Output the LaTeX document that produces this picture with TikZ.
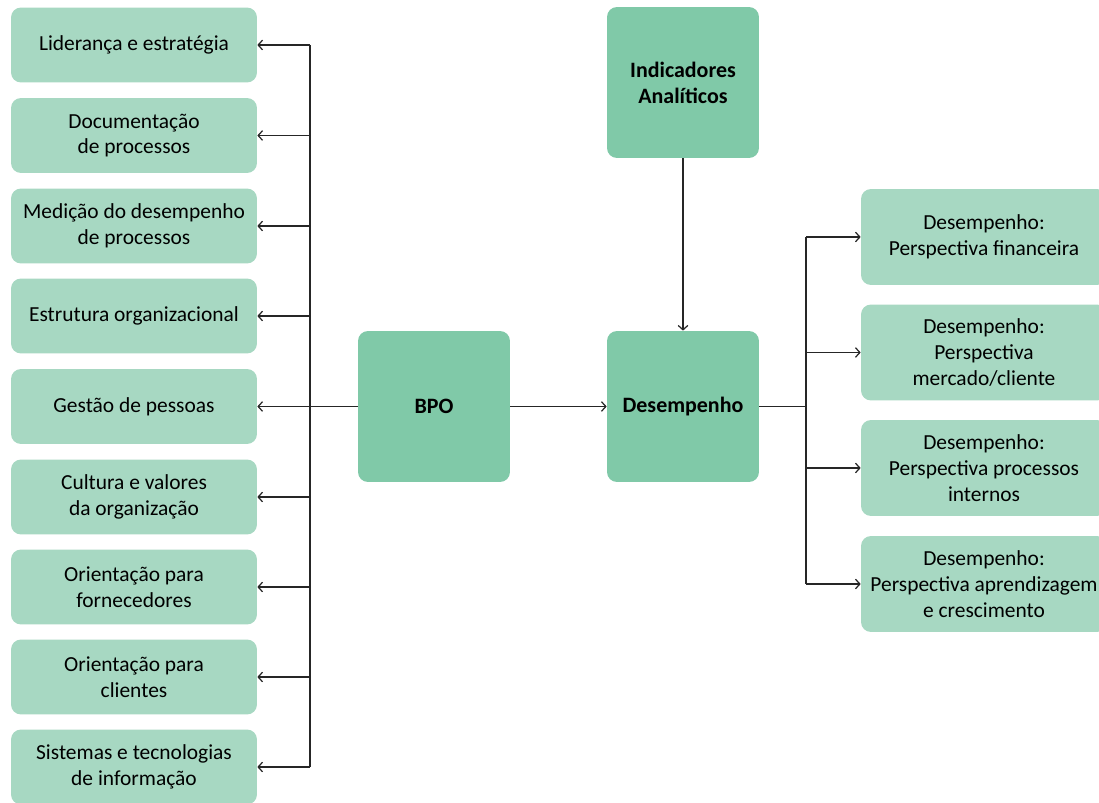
\documentclass[tikz,border=0pt]{standalone}
\usepackage{fontspec}
\setmainfont{Carlito}
\usetikzlibrary{arrows.meta,positioning}
\definecolor{boxlight}{HTML}{A7D8C2}
\definecolor{boxdark}{HTML}{80C9A8}
\tikzset{
  item/.style={fill=boxlight, rounded corners=0.2cm, minimum width=4.92cm,
    minimum height=1.5cm, align=center, font=\fontsize{12.2}{14.7}\selectfont},
  persp/.style={item, minimum height=1.92cm},
  core/.style={fill=boxdark, rounded corners=0.2cm, minimum width=3.04cm,
    minimum height=3.02cm, align=center, font=\fontsize{12.5}{14.7}\selectfont\bfseries},
  link/.style={line width=0.7pt, black!85},
}

\begin{document}
\begin{tikzpicture}[x=0.02cm, y=-0.02cm, >={Straight Barb[length=2.5pt,width=5.5pt]}]
  \clip (0,0) rectangle (1099,803);

  % left column
  \foreach \n/\y/\txt in {1/45/{Liderança e estratégia},
    2/135.5/{Documentação\\de processos},
    3/226/{Medição do desempenho\\de processos},
    4/316/{Estrutura organizacional},
    5/406.5/{Gestão de pessoas},
    6/497/{Cultura e valores\\da organização},
    7/587/{Orientação para\\fornecedores},
    8/677/{Orientação para\\clientes},
    9/767/{Sistemas e tecnologias\\de informação}} {
    \node[item] (l\n) at (134, \y) {\txt};
  }

  % centre
  \node[core] (bpo) at (434, 406.5) {BPO};
  \node[core] (des) at (683, 406.5) {Desempenho};
  \node[core] (ind) at (683, 82.5) {Indicadores\\Analíticos};

  % right column
  \foreach \n/\y/\txt in {1/237/{Desempenho:\\Perspectiva financeira},
    2/352.5/{Desempenho:\\Perspectiva\\mercado/cliente},
    3/468/{Desempenho:\\Perspectiva processos\\internos},
    4/584/{Desempenho:\\Perspectiva aprendizagem\\e crescimento}} {
    \node[persp] (p\n) at (984, \y) {\txt};
  }

  % BPO bus
  \coordinate (lbus) at (310, 406.5);
  \draw[link] (bpo.west) -- (lbus);
  \draw[link] (lbus |- l1.east) -- (lbus |- l9.east);
  \foreach \n in {1,...,9}
    \draw[link, ->] (lbus |- l\n.east) -- (l\n.east);

  \draw[link, ->] (bpo) -- (des);
  \draw[link, ->] (ind) -- (des);

  % Desempenho bus
  \coordinate (rbus) at (806, 406.5);
  \draw[link] (des.east) -- (rbus);
  \draw[link] (rbus |- p1.west) -- (rbus |- p4.west);
  \foreach \n in {1,...,4}
    \draw[link, ->] (rbus |- p\n.west) -- (p\n.west);
\end{tikzpicture}
\end{document}
